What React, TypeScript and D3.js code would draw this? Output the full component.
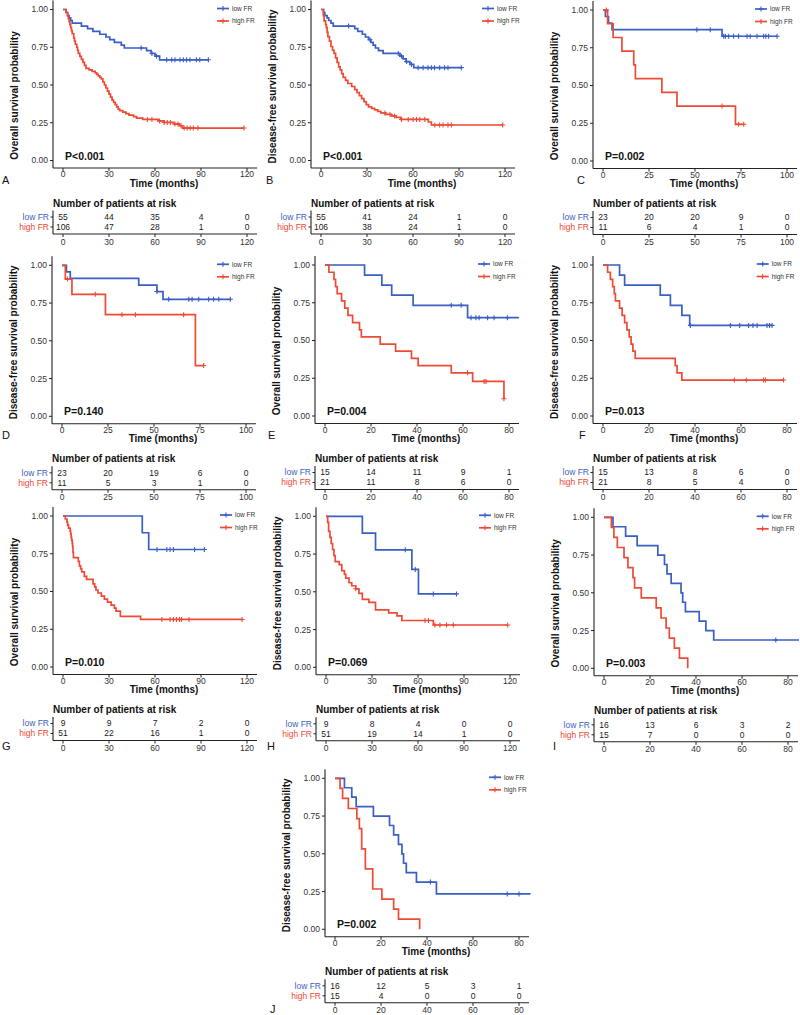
import React from 'react';
import * as d3 from 'd3';

type Step = [number, number];

const BLUE = '#3A5FC4';
const RED = '#EE4A35';
const FONT = "'Liberation Sans', Arial, Helvetica, sans-serif";

// ---------- Tick labels ----------
const ticks120 = [0, 30, 60, 90, 120];
const ticks100 = [0, 25, 50, 75, 100];
const ticks80 = [0, 20, 40, 60, 80];
const yTicks = [0, 0.25, 0.5, 0.75, 1];
const groupNames = ['low FR', 'high FR'];

// ---------- Panel A ----------
const aLowSteps: Step[] = [[2, 0.98], [3, 0.96], [4, 0.945], [5, 0.927], [6, 0.91], [12, 0.89], [16, 0.873], [19.5, 0.855], [24, 0.836], [28, 0.818], [30.5, 0.8], [33.5, 0.782], [38, 0.764], [40, 0.745], [54.5, 0.727], [57.5, 0.709], [60, 0.691], [63, 0.667]];
const aLowEnd = 95;
const aLowCens = [51, 58, 61, 67.6, 70.9, 73, 76.3, 78.5, 80.6, 82.8, 87, 89.2, 94.8];
const aHighSteps: Step[] = [[2, 0.98], [3, 0.96], [3.5, 0.94], [4, 0.92], [4.5, 0.9], [5, 0.88], [5.5, 0.86], [6, 0.84], [7, 0.81], [7.5, 0.79], [8, 0.77], [9, 0.75], [9.5, 0.73], [10, 0.71], [11, 0.69], [12, 0.67], [13, 0.65], [14, 0.63], [15, 0.61], [17, 0.6], [19, 0.59], [21, 0.58], [22, 0.57], [23, 0.56], [24, 0.55], [25, 0.54], [26, 0.52], [27, 0.5], [28, 0.48], [29, 0.46], [30, 0.44], [31, 0.42], [32, 0.4], [33, 0.385], [34, 0.37], [35, 0.355], [36, 0.34], [37, 0.33], [39, 0.32], [41, 0.31], [43, 0.3], [46, 0.29], [48, 0.28], [52, 0.272], [62, 0.262], [66, 0.252], [72, 0.242], [76, 0.23], [78, 0.215]];
const aHighEnd = 118;
const aHighCens = [55, 58, 63, 66, 68, 70, 73, 75, 77, 79, 81, 83, 85, 88, 118];
const aLowRisk = [55, 44, 35, 4, 0];
const aHighRisk = [106, 47, 28, 1, 0];

// ---------- Panel B ----------
const bLowSteps: Step[] = [[1.7, 0.98], [2.5, 0.96], [4, 0.945], [5, 0.927], [6.5, 0.91], [8, 0.89], [22, 0.873], [24, 0.855], [27, 0.836], [29, 0.818], [31, 0.8], [32.5, 0.782], [34, 0.764], [35.5, 0.745], [37.5, 0.727], [40.5, 0.709], [51.5, 0.691], [53.5, 0.673], [55.5, 0.655], [58, 0.636], [60.5, 0.615]];
const bLowEnd = 91.5;
const bLowCens = [18, 32, 50.4, 52.5, 55.8, 59, 63.3, 66.6, 69.8, 72, 74, 77.4, 80.6, 82.8, 91.5];
const bHighSteps: Step[] = [[1.5, 0.96], [2, 0.925], [3, 0.9], [3.5, 0.88], [4, 0.85], [4.5, 0.82], [5.5, 0.79], [6.5, 0.755], [7.5, 0.73], [8.5, 0.71], [9.5, 0.68], [10.5, 0.65], [11.5, 0.62], [12.5, 0.6], [13.5, 0.575], [14.5, 0.55], [16, 0.53], [17.5, 0.51], [20, 0.49], [22, 0.47], [23.5, 0.45], [25, 0.43], [26.5, 0.41], [28, 0.39], [29.5, 0.37], [31, 0.355], [33, 0.345], [35, 0.335], [37, 0.325], [39, 0.315], [42, 0.305], [46, 0.295], [49, 0.285], [52, 0.272], [70, 0.255], [72, 0.235]];
const bHighEnd = 118.5;
const bHighCens = [41.7, 45, 48, 52.5, 56.9, 60.1, 62.3, 64.4, 67.7, 74.2, 77.4, 79.6, 82.8, 85, 118.5];
const bLowRisk = [55, 41, 24, 1, 0];
const bHighRisk = [106, 38, 24, 1, 0];

// ---------- Panel C ----------
const cLowSteps: Step[] = [[1.3, 0.957], [3, 0.913], [4.9, 0.87], [64.7, 0.826]];
const cLowEnd = 94.6;
const cLowCens = [51, 58.3, 65.6, 66.5, 68.3, 71, 73.7, 78.3, 80, 83.7, 87.3, 88.5, 90, 94.6];
const cHighSteps: Step[] = [[2.5, 0.909], [5.5, 0.818], [10.3, 0.727], [16.7, 0.636], [17.6, 0.545], [32, 0.455], [40.2, 0.364], [72, 0.243]];
const cHighEnd = 76.5;
const cHighCens = [1.8, 64.7, 73.7, 76.5];
const cLowRisk = [23, 20, 20, 9, 0];
const cHighRisk = [11, 6, 4, 1, 0];

// ---------- Panel D ----------
const dLowSteps: Step[] = [[2.4, 0.957], [4.5, 0.913], [41.7, 0.869], [51.6, 0.826], [54.9, 0.775]];
const dLowEnd = 91.5;
const dLowCens = [51.6, 58, 68.9, 70.7, 74.3, 79.7, 82.4, 85.2, 91.5];
const dHighSteps: Step[] = [[1.8, 0.909], [5.4, 0.808], [23.6, 0.673], [72.5, 0.336]];
const dHighEnd = 77;
const dHighCens = [3, 18.1, 32.6, 39.9, 66.1, 77];
const dLowRisk = [23, 20, 19, 6, 0];
const dHighRisk = [11, 5, 3, 1, 0];

// ---------- Panel E ----------
const eLowSteps: Step[] = [[17.2, 0.933], [24.7, 0.867], [29, 0.8], [38.3, 0.733], [62, 0.651]];
const eLowEnd = 84.3;
const eLowCens = [54.9, 59.2, 63.5, 65.6, 67, 70.7, 73.5, 79.3];
const eHighSteps: Step[] = [[1.7, 0.952], [3.9, 0.905], [4.6, 0.857], [5.3, 0.81], [7.2, 0.762], [8.6, 0.714], [10, 0.667], [12, 0.619], [15, 0.571], [15.8, 0.524], [24, 0.476], [30.7, 0.429], [37.6, 0.381], [40.5, 0.333], [54.9, 0.286], [64.2, 0.229], [77.8, 0.114]];
const eHighEnd = 77.8;
const eHighCens = [62, 69.2, 70, 77.8];
const eLowRisk = [15, 14, 11, 9, 1];
const eHighRisk = [21, 11, 8, 6, 0];

// ---------- Panel F ----------
const fLowSteps: Step[] = [[7.2, 0.933], [9.4, 0.867], [24.9, 0.8], [29.3, 0.733], [34.3, 0.667], [37.7, 0.6]];
const fLowEnd = 73.5;
const fLowCens = [38, 55.4, 59.4, 63.3, 65.2, 67, 71.3, 72.4, 73.5];
const fHighSteps: Step[] = [[2, 0.952], [3.2, 0.905], [4.2, 0.857], [4.9, 0.81], [5.4, 0.762], [7.2, 0.714], [8.3, 0.667], [9.4, 0.619], [10.4, 0.571], [11.4, 0.524], [12.2, 0.476], [13, 0.429], [14, 0.381], [31.4, 0.333], [32.2, 0.286], [34.3, 0.238]];
const fHighEnd = 78.5;
const fHighCens = [57.1, 62.3, 69.8, 70.6, 78.5];
const fLowRisk = [15, 13, 8, 6, 0];
const fHighRisk = [21, 8, 5, 4, 0];

// ---------- Panel G ----------
const gLowSteps: Step[] = [[51.7, 0.889], [55.9, 0.778]];
const gLowEnd = 92.2;
const gLowCens = [61.3, 67.7, 69.8, 72, 85.8, 92.2];
const gHighSteps: Step[] = [[1.5, 0.98], [2.6, 0.96], [3, 0.94], [3.6, 0.92], [4.7, 0.9], [5, 0.88], [5.3, 0.86], [5.6, 0.84], [6, 0.82], [6.2, 0.8], [6.5, 0.76], [6.8, 0.725], [10, 0.7], [10.7, 0.67], [11.5, 0.65], [12.2, 0.63], [13.9, 0.6], [15.4, 0.58], [19.6, 0.55], [20.7, 0.53], [21.5, 0.51], [22.8, 0.49], [25, 0.47], [27, 0.45], [29, 0.43], [31.4, 0.41], [33.5, 0.39], [34.6, 0.37], [37.4, 0.335], [50.6, 0.315]];
const gHighEnd = 116.8;
const gHighCens = [64.5, 69.8, 72, 74, 76, 77.3, 82.2, 116.8];
const gLowRisk = [9, 9, 7, 2, 0];
const gHighRisk = [51, 22, 16, 1, 0];

// ---------- Panel H ----------
const hLowSteps: Step[] = [[23.7, 0.889], [32.3, 0.778], [56, 0.648], [60.3, 0.486]];
const hLowEnd = 85.1;
const hLowCens = [51.7, 58.2, 70, 85.1];
const hHighSteps: Step[] = [[1.1, 0.96], [1.7, 0.9], [2.6, 0.86], [3.4, 0.82], [4.3, 0.78], [5.2, 0.74], [6, 0.7], [8.6, 0.68], [10.3, 0.64], [12, 0.615], [12.9, 0.59], [15, 0.56], [16.8, 0.54], [19.4, 0.52], [21.5, 0.49], [23.7, 0.45], [28, 0.43], [32.3, 0.38], [40.9, 0.36], [46.3, 0.34], [49.5, 0.31], [70, 0.28]];
const hHighEnd = 118.5;
const hHighCens = [19.4, 64.6, 66.8, 71, 74.3, 78.6, 83, 118.5];
const hLowRisk = [9, 8, 4, 0, 0];
const hHighRisk = [51, 19, 14, 1, 0];

// ---------- Panel I ----------
const iLowSteps: Step[] = [[3.9, 0.9375], [9.4, 0.875], [14.4, 0.8125], [23.4, 0.75], [26.3, 0.6875], [27.4, 0.625], [29.2, 0.5625], [33.5, 0.5], [34.2, 0.4375], [35.4, 0.375], [41.4, 0.3125], [44.3, 0.25], [47.7, 0.1875]];
const iLowEnd = 84.8;
const iLowCens = [74.7];
const iHighSteps: Step[] = [[3.2, 0.933], [4.3, 0.867], [5.8, 0.8], [8.7, 0.733], [10.4, 0.667], [12.6, 0.6], [13.3, 0.533], [16.2, 0.467], [22.7, 0.4], [24.8, 0.333], [27, 0.267], [28.4, 0.2], [30.6, 0.133], [32.8, 0.067], [36.4, 0]];
const iHighEnd = 36.4;
const iHighCens: number[] = [];
const iLowRisk = [16, 13, 6, 3, 2];
const iHighRisk = [15, 7, 0, 0, 0];

// ---------- Panel J ----------
const jLowSteps: Step[] = [[4.1, 0.9375], [7.3, 0.875], [9.2, 0.8125], [16.7, 0.75], [23.7, 0.6875], [25.5, 0.625], [27.6, 0.5625], [29.1, 0.5], [29.8, 0.4375], [31, 0.375], [35.4, 0.3125], [44.1, 0.234]];
const jLowEnd = 85;
const jLowCens = [41.5, 74.9, 80];
const jHighSteps: Step[] = [[2.2, 0.933], [3.3, 0.867], [5.8, 0.8], [9.5, 0.733], [10.6, 0.667], [11.6, 0.533], [13.2, 0.4], [16.4, 0.267], [20.4, 0.2], [25.5, 0.133], [27.6, 0.067], [36.8, 0]];
const jHighEnd = 36.8;
const jHighCens: number[] = [];
const jLowRisk = [16, 12, 5, 3, 1];
const jHighRisk = [15, 4, 0, 0, 0];

interface Curve { steps: Step[]; end: number; cens: number[]; }
interface PanelCfg {
  letter: string; lx: number; ly: number;
  axisX: number; y1: number; xMax: number; ticks: number[];
  title: string; p: string; legX: number;
  low: Curve; high: Curve; lowRisk: number[]; highRisk: number[];
}

const OS = 'Overall survival probability';
const DFS = 'Disease-free survival probability';

const panels: PanelCfg[] = [
  { letter: 'A', lx: 2, ly: 184, axisX: 53, y1: 9.5, xMax: 120, ticks: ticks120, title: OS, p: 'P<0.001', legX: 232,
    low: { steps: aLowSteps, end: aLowEnd, cens: aLowCens }, high: { steps: aHighSteps, end: aHighEnd, cens: aHighCens }, lowRisk: aLowRisk, highRisk: aHighRisk },
  { letter: 'B', lx: 266, ly: 184, axisX: 311, y1: 9.5, xMax: 120, ticks: ticks120, title: DFS, p: 'P<0.001', legX: 497,
    low: { steps: bLowSteps, end: bLowEnd, cens: bLowCens }, high: { steps: bHighSteps, end: bHighEnd, cens: bHighCens }, lowRisk: bLowRisk, highRisk: bHighRisk },
  { letter: 'C', lx: 577, ly: 184, axisX: 593, y1: 10, xMax: 100, ticks: ticks100, title: OS, p: 'P=0.002', legX: 770,
    low: { steps: cLowSteps, end: cLowEnd, cens: cLowCens }, high: { steps: cHighSteps, end: cHighEnd, cens: cHighCens }, lowRisk: cLowRisk, highRisk: cHighRisk },
  { letter: 'D', lx: 2, ly: 439, axisX: 52, y1: 265.3, xMax: 100, ticks: ticks100, title: DFS, p: 'P=0.140', legX: 232,
    low: { steps: dLowSteps, end: dLowEnd, cens: dLowCens }, high: { steps: dHighSteps, end: dHighEnd, cens: dHighCens }, lowRisk: dLowRisk, highRisk: dHighRisk },
  { letter: 'E', lx: 268, ly: 439, axisX: 315, y1: 265, xMax: 80, ticks: ticks80, title: OS, p: 'P=0.004', legX: 493,
    low: { steps: eLowSteps, end: eLowEnd, cens: eLowCens }, high: { steps: eHighSteps, end: eHighEnd, cens: eHighCens }, lowRisk: eLowRisk, highRisk: eHighRisk },
  { letter: 'F', lx: 579, ly: 439, axisX: 593, y1: 265, xMax: 80, ticks: ticks80, title: DFS, p: 'P=0.013', legX: 771.7,
    low: { steps: fLowSteps, end: fLowEnd, cens: fLowCens }, high: { steps: fHighSteps, end: fHighEnd, cens: fHighCens }, lowRisk: fLowRisk, highRisk: fHighRisk },
  { letter: 'G', lx: 2, ly: 750, axisX: 53, y1: 516, xMax: 120, ticks: ticks120, title: OS, p: 'P=0.010', legX: 235,
    low: { steps: gLowSteps, end: gLowEnd, cens: gLowCens }, high: { steps: gHighSteps, end: gHighEnd, cens: gHighCens }, lowRisk: gLowRisk, highRisk: gHighRisk },
  { letter: 'H', lx: 267, ly: 750, axisX: 316, y1: 516.3, xMax: 120, ticks: ticks120, title: DFS, p: 'P=0.069', legX: 494,
    low: { steps: hLowSteps, end: hLowEnd, cens: hLowCens }, high: { steps: hHighSteps, end: hHighEnd, cens: hHighCens }, lowRisk: hLowRisk, highRisk: hHighRisk },
  { letter: 'I', lx: 553, ly: 750, axisX: 594, y1: 517.3, xMax: 80, ticks: ticks80, title: OS, p: 'P=0.003', legX: 771.7,
    low: { steps: iLowSteps, end: iLowEnd, cens: iLowCens }, high: { steps: iHighSteps, end: iHighEnd, cens: iHighCens }, lowRisk: iLowRisk, highRisk: iHighRisk },
  { letter: 'J', lx: 270, ly: 1013, axisX: 325, y1: 778.3, xMax: 80, ticks: ticks80, title: DFS, p: 'P=0.002', legX: 504,
    low: { steps: jLowSteps, end: jLowEnd, cens: jLowCens }, high: { steps: jHighSteps, end: jHighEnd, cens: jHighCens }, lowRisk: jLowRisk, highRisk: jHighRisk },
];

const fmt = d3.format('.2f');

function survAt(steps: Step[], t: number): number {
  let s = 1;
  for (const [tt, ss] of steps) if (tt <= t) s = ss;
  return s;
}

function Panel({ cfg }: { cfg: PanelCfg }) {
  const ax = cfg.axisX;
  const y1 = cfg.y1;
  const x = d3.scaleLinear().domain([0, cfg.xMax]).range([ax + 10, ax + 194]);
  const y = d3.scaleLinear().domain([0, 1]).range([y1 + 151, y1]);
  const axY = y1 + 158.5;
  const line = d3.line<Step>().x(d => x(d[0])).y(d => y(d[1])).curve(d3.curveStepAfter);
  const pts = (c: Curve): Step[] => [[0, 1], ...c.steps, [c.end, c.steps[c.steps.length - 1][1]]];
  const curves: [Curve, string][] = [[cfg.low, BLUE], [cfg.high, RED]];
  const titleY = cfg.title === OS ? y1 + 86 : y1 + 77;
  const tableY = y1 + 224.5;
  const rowY = [y1 + 207.5, y1 + 217.5];
  const risks = [cfg.lowRisk, cfg.highRisk];
  const cols = [BLUE, RED];
  const legY = [y1 - 1, y1 + 11.5];
  const AX = '#222';
  return (
    <g fontFamily={FONT}>
      {/* y axis */}
      <line x1={ax} x2={ax} y1={y1 - 9} y2={axY} stroke={AX} strokeWidth={1.1} />
      {yTicks.map(v => (
        <g key={'y' + v}>
          <line x1={ax - 3} x2={ax} y1={y(v)} y2={y(v)} stroke={AX} />
          <text x={ax - 5} y={y(v)} dy="0.35em" textAnchor="end" fontSize={8.5} fill="#333">{fmt(v)}</text>
        </g>
      ))}
      <text transform={`translate(${ax - 35.5},${titleY}) rotate(-90)`} textAnchor="middle" fontWeight="bold" fontSize={10} fill="#111">{cfg.title}</text>
      {/* x axis */}
      <line x1={ax} x2={ax + 204} y1={axY} y2={axY} stroke={AX} strokeWidth={1.1} />
      {cfg.ticks.map(t => (
        <g key={'x' + t}>
          <line x1={x(t)} x2={x(t)} y1={axY} y2={axY + 3} stroke={AX} />
          <text x={x(t)} y={axY + 9} textAnchor="middle" fontSize={8.5} fill="#333">{t}</text>
        </g>
      ))}
      <text x={ax + 111} y={y1 + 177} textAnchor="middle" fontWeight="bold" fontSize={10} fill="#111">Time (months)</text>
      {/* curves */}
      {curves.map(([c, col], i) => (
        <g key={'c' + i}>
          <path d={line(pts(c)) || ''} fill="none" stroke={col} strokeWidth={1.7} />
          {c.cens.map((t, k) => {
            const cx = x(t), cy = y(survAt(c.steps, t));
            return <path key={k} d={`M${cx - 2.5},${cy}H${cx + 2.5}M${cx},${cy - 2.5}V${cy + 2.5}`} stroke={col} strokeWidth={1.1} />;
          })}
        </g>
      ))}
      <text x={ax + 12} y={y1 + 150} fontWeight="bold" fontSize={10.5} fill="#111">{cfg.p}</text>
      {/* legend */}
      {groupNames.map((g, i) => (
        <g key={'l' + i}>
          <line x1={cfg.legX - 15} x2={cfg.legX - 3} y1={legY[i]} y2={legY[i]} stroke={cols[i]} strokeWidth={1.7} />
          <path d={`M${cfg.legX - 11.5},${legY[i]}H${cfg.legX - 6.5}M${cfg.legX - 9},${legY[i] - 2.5}V${legY[i] + 2.5}`} stroke={cols[i]} strokeWidth={1.1} />
          <text x={cfg.legX} y={legY[i]} dy="0.35em" fontSize={6.5} fill="#333">{g}</text>
        </g>
      ))}
      {/* risk table */}
      <text x={ax} y={y1 + 197} fontWeight="bold" fontSize={10} fill="#111">Number of patients at risk</text>
      <line x1={ax} x2={ax} y1={y1 + 201} y2={tableY} stroke={AX} strokeWidth={1.1} />
      <line x1={ax} x2={ax + 204} y1={tableY} y2={tableY} stroke={AX} strokeWidth={1.1} />
      {groupNames.map((g, i) => (
        <g key={'r' + i}>
          <line x1={ax - 2.5} x2={ax} y1={rowY[i]} y2={rowY[i]} stroke={AX} />
          <text x={ax - 4} y={rowY[i]} dy="0.35em" textAnchor="end" fontSize={8.5} fill={cols[i]}>{g}</text>
          {risks[i].map((n, k) => (
            <text key={k} x={x(cfg.ticks[k])} y={rowY[i]} dy="0.35em" textAnchor="middle" fontSize={8.5} fill="#1a1a1a">{n}</text>
          ))}
        </g>
      ))}
      {cfg.ticks.map(t => (
        <g key={'tx' + t}>
          <line x1={x(t)} x2={x(t)} y1={tableY} y2={tableY + 3} stroke={AX} />
          <text x={x(t)} y={tableY + 10.5} textAnchor="middle" fontSize={8.5} fill="#333">{t}</text>
        </g>
      ))}
      <text x={cfg.lx} y={cfg.ly} fontSize={11} fill="#111">{cfg.letter}</text>
    </g>
  );
}

export default function App() {
  return (
    <svg width={800} height={1015} style={{ position: 'absolute', left: 0, top: 0, background: '#fff' }}>
      <rect width={800} height={1015} fill="#fff" />
      {panels.map(p => <Panel key={p.letter} cfg={p} />)}
    </svg>
  );
}
